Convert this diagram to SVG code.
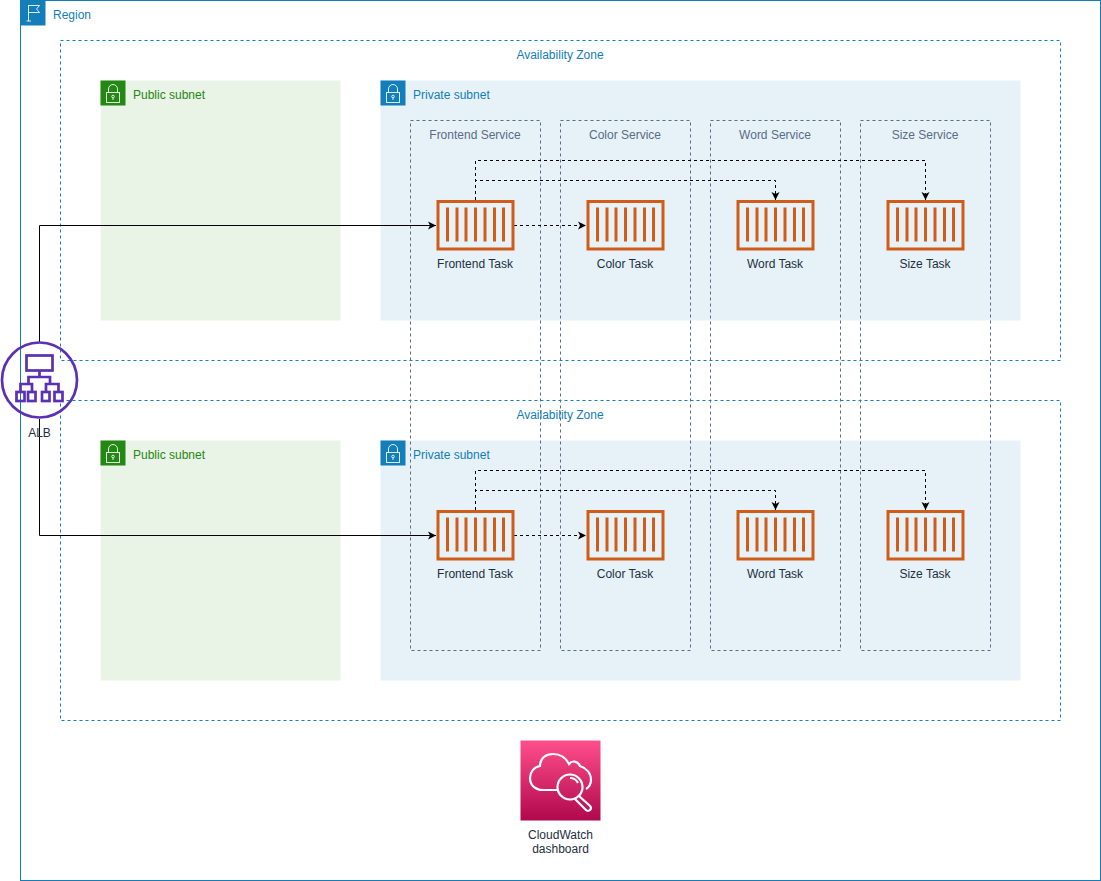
<svg xmlns="http://www.w3.org/2000/svg" width="1101" height="881" viewBox="0 0 1101 881">
<style>
text{font-family:"Liberation Sans",Arial,sans-serif;font-size:12px}
.c{text-anchor:middle}
.blue{fill:#147EBA}
.green{fill:#248814}
.dark{fill:#232F3E}
.svc{fill:#5A6C86}
.az{fill:none;stroke:#147EBA;stroke-dasharray:3 3}
.sv{fill:none;stroke:#5A6C86;stroke-dasharray:3 3}
.wire{fill:none;stroke:#000;stroke-width:1}
.dash{stroke-dasharray:3 3}
.ico{fill:none;stroke:#fff;stroke-width:1;opacity:.85}
.bar{fill:none;stroke:#D05C17;stroke-width:3}
.alb{fill:none;stroke:#5A30B5;stroke-width:2.700}
.cw{fill:none;stroke:#fff;stroke-width:2.200}
</style>
<defs>
<marker id="ah" markerUnits="userSpaceOnUse" markerWidth="9" markerHeight="10" refX="8" refY="5" orient="auto"><path d="M0 1L8 5L0 9L2 5Z" fill="#000"/></marker>
<linearGradient id="cwg" x1="0" y1="1" x2="0" y2="0"><stop offset="0" stop-color="#B0084D"/><stop offset="1" stop-color="#FF4F8B"/></linearGradient>
<g id="lock"><rect x="-6.500" y="-1.500" width="13" height="10" class="ico"/><path d="M-4.500-1.500V-5a4.500 4.500 0 0 1 9 0V-1.500" class="ico"/><circle cy="2.500" r="1.300" class="ico"/><path d="M0 3.800V6" class="ico"/></g>
<g id="task"><rect x="-37.500" y="-24" width="75" height="47.500" fill="none" stroke="#D05C17" stroke-width="3"/><path d="M-28-18V16M-18.500-18V16M-9.500-18V16M0-18V16M9.500-18V16M19-18V16M28-18V16" class="bar"/></g>
</defs>
<g id="region"><rect x="20.500" y="0.500" width="1080" height="880" fill="none" stroke="#147EBA"/><rect x="20.500" y="0.500" width="25" height="25" fill="#147EBA"/><path d="M28.500 21V5M28.500 5.500H39.500L36.500 9L39.500 12.500H28.500M26.500 21H31" class="ico"/><text x="53" y="19" class="blue">Region</text></g>
<g id="az1"><rect x="60.500" y="40.500" width="1000" height="320" class="az"/><text x="560" y="59" class="c blue">Availability Zone</text></g>
<g id="az2"><rect x="60.500" y="400.500" width="1000" height="320" class="az"/><text x="560" y="419" class="c blue">Availability Zone</text></g>
<g id="public1"><rect x="100.500" y="80.500" width="240" height="240" fill="#E9F3E6"/><rect x="100.500" y="80.500" width="25" height="25" fill="#248814"/><use href="#lock" x="113" y="94"/><text x="133" y="99" class="green">Public subnet</text></g>
<g id="public2"><rect x="100.500" y="440.500" width="240" height="240" fill="#E9F3E6"/><rect x="100.500" y="440.500" width="25" height="25" fill="#248814"/><use href="#lock" x="113" y="454"/><text x="133" y="459" class="green">Public subnet</text></g>
<g id="private1"><rect x="380.500" y="80.500" width="640" height="240" fill="#E6F2F8"/><rect x="380.500" y="80.500" width="25" height="25" fill="#147EBA"/><use href="#lock" x="393" y="94"/><text x="413" y="99" class="blue">Private subnet</text></g>
<g id="private2"><rect x="380.500" y="440.500" width="640" height="240" fill="#E6F2F8"/><rect x="380.500" y="440.500" width="25" height="25" fill="#147EBA"/><use href="#lock" x="393" y="454"/><text x="413" y="459" class="blue">Private subnet</text></g>
<g id="svc-frontend"><rect x="410.500" y="120.500" width="130" height="530" class="sv"/><text x="475" y="139" class="c svc">Frontend Service</text></g>
<g id="svc-color"><rect x="560.500" y="120.500" width="130" height="530" class="sv"/><text x="625" y="139" class="c svc">Color Service</text></g>
<g id="svc-word"><rect x="710.500" y="120.500" width="130" height="530" class="sv"/><text x="775" y="139" class="c svc">Word Service</text></g>
<g id="svc-size"><rect x="860.500" y="120.500" width="130" height="530" class="sv"/><text x="925" y="139" class="c svc">Size Service</text></g>
<g id="connectors">
<path d="M39.500 342V225.500H436" class="wire" marker-end="url(#ah)"/>
<path d="M39.500 419V535.500H436" class="wire" marker-end="url(#ah)"/>
<path d="M475.500 200V160.500H925.500V200" class="wire dash" marker-end="url(#ah)"/>
<path d="M475.500 200V180.500H775.500V200" class="wire dash" marker-end="url(#ah)"/>
<path d="M514 225.500H586" class="wire dash" marker-end="url(#ah)"/>
<path d="M475.500 510V470.500H925.500V510" class="wire dash" marker-end="url(#ah)"/>
<path d="M475.500 510V490.500H775.500V510" class="wire dash" marker-end="url(#ah)"/>
<path d="M514 535.500H586" class="wire dash" marker-end="url(#ah)"/>
</g>
<g id="task-frontend-1"><use href="#task" x="475.500" y="225.500"/><text x="475" y="268" class="c dark">Frontend Task</text></g>
<g id="task-color-1"><use href="#task" x="625.500" y="225.500"/><text x="625" y="268" class="c dark">Color Task</text></g>
<g id="task-word-1"><use href="#task" x="775.500" y="225.500"/><text x="775" y="268" class="c dark">Word Task</text></g>
<g id="task-size-1"><use href="#task" x="925.500" y="225.500"/><text x="925" y="268" class="c dark">Size Task</text></g>
<g id="task-frontend-2"><use href="#task" x="475.500" y="535.500"/><text x="475" y="578" class="c dark">Frontend Task</text></g>
<g id="task-color-2"><use href="#task" x="625.500" y="535.500"/><text x="625" y="578" class="c dark">Color Task</text></g>
<g id="task-word-2"><use href="#task" x="775.500" y="535.500"/><text x="775" y="578" class="c dark">Word Task</text></g>
<g id="task-size-2"><use href="#task" x="925.500" y="535.500"/><text x="925" y="578" class="c dark">Size Task</text></g>
<g id="alb"><circle cx="39.500" cy="380" r="37.500" class="alb" stroke-width="3"/><rect x="26.500" y="355.500" width="26" height="15" class="alb"/><path d="M39.500 370.500V377M28.500 384V377H50V384M20.500 392V384H32V392M46 392V384H58.500V392" class="alb"/><rect x="16.500" y="392" width="8" height="9" class="alb"/><rect x="28" y="392" width="7.500" height="9" class="alb"/><rect x="42" y="392" width="7.500" height="9" class="alb"/><rect x="54.500" y="392" width="8" height="9" class="alb"/><text x="39.500" y="437" class="c dark">ALB</text></g>
<g id="cloudwatch"><rect x="520.500" y="740.500" width="80" height="80" fill="url(#cwg)"/><path d="M557 790H543C535 790 530 785 530 778C530 772 534 767 540 766C540 758 546 754 553 754C560 754 566 758 569 764C572 760 578 761 580 766C586 768 591 773 591 780C591 784 589 787 586 789" class="cw"/><circle cx="570" cy="787" r="12.500" class="cw"/><path d="M570 778a9 9 0 0 1 8 5" class="cw"/><path d="M579 796L590 806A2.500 2.500 0 0 1 586 810L575 799" class="cw"/><text x="560.500" y="839" class="c dark">CloudWatch</text><text x="560.500" y="853" class="c dark">dashboard</text></g>
</svg>
